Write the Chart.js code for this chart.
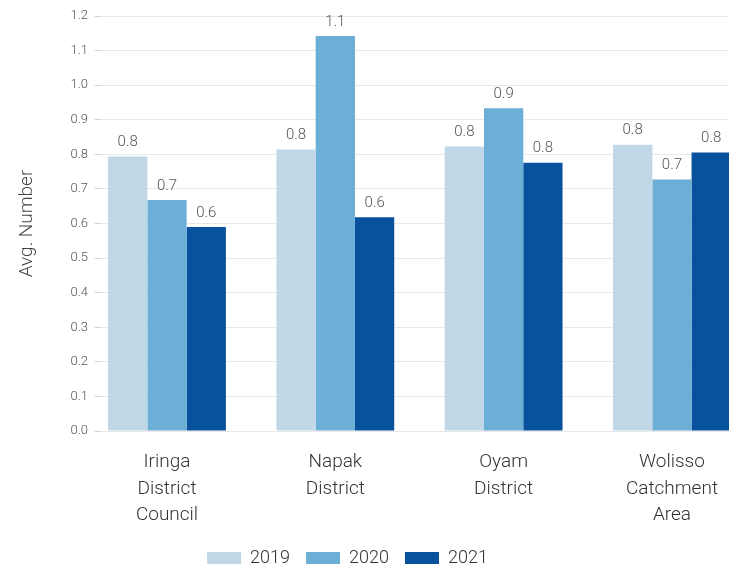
<!DOCTYPE html>
<html>
<head>
<meta charset="utf-8">
<script src="https://cdn.jsdelivr.net/npm/chart.js@4"></script>
<style>
    html, body { margin: 0; padding: 0; background: #fff; overflow: hidden; }
    #wrap { width: 729px; height: 566px; position: relative; }
</style>
</head>
<body>
<div id="wrap"><canvas id="chart"></canvas></div>
<script>
// Données
const categories = [
    ['Iringa', 'District', 'Council'],
    ['Napak', 'District'],
    ['Oyam', 'District'],
    ['Wolisso', 'Catchment', 'Area'],
];
const years = ['2019', '2020', '2021'];
const values2019 = [0.794, 0.814, 0.823, 0.828];
const values2020 = [0.668, 1.142, 0.933, 0.727];
const values2021 = [0.590, 0.618, 0.776, 0.805];
const yTicks = [0, 0.1, 0.2, 0.3, 0.4, 0.5, 0.6, 0.7, 0.8, 0.9, 1.0, 1.1, 1.2];

const colors = ['#bfd7e6', '#6baed6', '#08519c'];
const FONT = 'Roboto, "DejaVu Sans", sans-serif';

function toPoints(arr) {
    return arr.map((v, i) => ({ x: i, y: v }));
}

// Étiquettes de valeurs au-dessus des barres
const barLabels = {
    id: 'barLabels',
    afterDatasetsDraw(chart) {
        const ctx = chart.ctx;
        ctx.save();
        ctx.font = '300 15px ' + FONT;
        ctx.fillStyle = '#555';
        ctx.textAlign = 'center';
        ctx.textBaseline = 'middle';
        chart.data.datasets.forEach((ds, di) => {
            const meta = chart.getDatasetMeta(di);
            meta.data.forEach((bar, i) => {
                ctx.fillText(ds.data[i].y.toFixed(1), bar.x, bar.y - 14);
            });
        });
        ctx.restore();
    }
};

// Légende un peu décalée vers la gauche, comme l'original
const legendShift = {
    id: 'legendShift',
    afterLayout(chart) {
        chart.legend.left -= 17;
        chart.legend.right -= 17;
    }
};

new Chart(document.getElementById('chart'), {
    type: 'bar',
    data: {
        datasets: [
            { label: years[0], data: toPoints(values2019), backgroundColor: colors[0] },
            { label: years[1], data: toPoints(values2020), backgroundColor: colors[1] },
            { label: years[2], data: toPoints(values2021), backgroundColor: colors[2] },
        ],
    },
    options: {
        responsive: true,
        maintainAspectRatio: false,
        animation: false,
        layout: { padding: { top: 16, bottom: -11, left: 0, right: 0 } },
        datasets: { bar: { categoryPercentage: 0.7, barPercentage: 1.0, clip: 0 } },
        plugins: {
            legend: {
                position: 'bottom',
                labels: {
                    boxWidth: 34,
                    boxHeight: 12,
                    padding: 16,
                    color: '#333',
                    font: { family: FONT, size: 18, weight: 300 },
                },
            },
            tooltip: { enabled: false },
        },
        scales: {
            x: {
                type: 'linear',
                offset: false,
                bounds: 'data',
                min: -0.398,
                max: 3.339,
                afterBuildTicks: (s) => { s.ticks = categories.map((c, i) => ({ value: i })); },
                afterFit: (s) => { s.height = 102; },
                grid: { display: false },
                border: { display: false },
                ticks: {
                    autoSkip: false,
                    maxRotation: 0,
                    padding: 10,
                    color: '#333',
                    font: { family: FONT, size: 19, lineHeight: 1.4, weight: 300 },
                    callback: (v) => (Number.isInteger(v) && categories[v]) ? categories[v] : '',
                },
            },
            y: {
                min: 0,
                max: 1.2,
                afterFit: (s) => { s.width = 100; },
                afterBuildTicks: (s) => { s.ticks = yTicks.map(v => ({ value: v })); },
                grid: { color: '#e8e8e8', tickColor: '#cfcfcf', tickLength: 5 },
                border: { display: false },
                ticks: {
                    padding: 7,
                    color: '#555',
                    font: { family: FONT, size: 13, weight: 300 },
                    callback: (v) => v.toFixed(1),
                },
                title: {
                    display: true,
                    text: 'Avg. Number',
                    color: '#444',
                    font: { family: FONT, size: 19, weight: 300 },
                    padding: { top: 16, bottom: 0 },
                },
            },
        },
    },
    plugins: [barLabels, legendShift],
});
</script>
</body>
</html>
